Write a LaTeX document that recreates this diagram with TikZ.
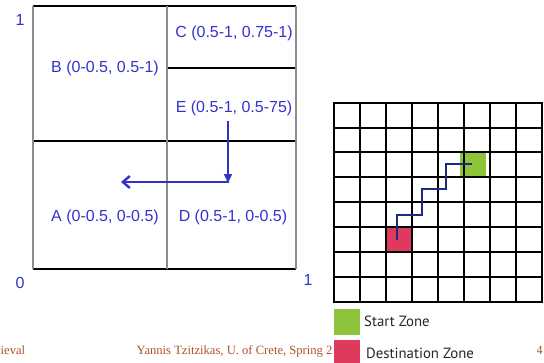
\documentclass[tikz,border=0pt]{standalone}
\usepackage{fontspec}
\setmainfont{Liberation Serif}
\setsansfont{Liberation Sans}
\newfontfamily\legendfont{PT Sans}
\usetikzlibrary{arrows.meta}
\definecolor{zoneblue}{HTML}{3333CC}
\definecolor{footbrown}{HTML}{B0502A}
\definecolor{startgreen}{HTML}{8DC43A}
\definecolor{destred}{HTML}{DD3A5E}
\definecolor{pathnavy}{HTML}{1E2A80}
\tikzset{
  vline/.style={draw=gray!90, line width=1.6pt},
  hline/.style={draw=black, line width=1.3pt},
  zonelabel/.style={font=\sffamily\fontsize{16}{19}\selectfont, text=zoneblue, inner sep=0pt},
  axislabel/.style={font=\sffamily\fontsize{16}{19}\selectfont, text=zoneblue, inner sep=0pt},
  moveline/.style={draw=zoneblue, line width=2pt},
  footer/.style={font=\rmfamily\fontsize{12.6}{14}\selectfont, text=footbrown, inner sep=0pt},
  gridline/.style={draw=black, line width=2pt},
  legendtext/.style={font=\legendfont\fontsize{14.8}{17}\selectfont, text=black!85, inner sep=0pt, anchor=base west},
  route/.style={draw=pathnavy, line width=2pt},
}
\begin{document}
\begin{tikzpicture}[x=1pt,y=-1pt]
\useasboundingbox (0,0) rectangle (544,362);

% footer line of the page
\node[footer, anchor=base west] (fleft) at (0.5,354.5) {ieval};
\node[footer, anchor=base west] (fmid) at (136.5,354.5) {Yannis Tzitzikas, U. of Crete, Spring 2};
\node[footer, anchor=base] (fnum) at (539.5,354.5) {4};

% partition of the unit square
\draw[hline] (33,6) -- (296,6);
\draw[hline] (33,269) -- (296,269);
\draw[hline] (33,141) -- (296,141);
\draw[hline] (167,68) -- (296,68);
\draw[vline] (33,6) -- (33,269);
\draw[vline] (167,6) -- (167,269);
\draw[vline] (296,6) -- (296,269);

% axis ticks
\node[axislabel] (ytop) at (20,20) {1};
\node[axislabel] (origin) at (20,283) {0};
\node[axislabel] (xright) at (308,280) {1};

% zone labels
\node[zonelabel] (zc) at (234,33) {C (0.5-1, 0.75-1)};
\node[zonelabel] (zb) at (105,68) {B (0-0.5, 0.5-1)};
\node[zonelabel] (ze) at (234,108) {E (0.5-1, 0.5-75)};
\node[zonelabel] (za) at (105,217) {A (0-0.5, 0-0.5)};
\node[zonelabel] (zd) at (233,217) {D (0.5-1, 0-0.5)};

% movement of the object from E into A
\coordinate (mstart) at (228,121);
\coordinate (mturn) at (228,182);
\coordinate (mend) at (121,182);
\draw[moveline, -{Triangle[length=9pt,width=8pt]}] (mstart) -- ([yshift=-1pt]mturn);
\draw[moveline, -{Straight Barb[length=7pt,width=12pt,line width=2.4pt]}] ([xshift=1pt]mturn) -- (mend);

% grid of zones
\fill[white] (333,95) rectangle (537,362);
\fill[startgreen] (460,152.5) rectangle (486,177.5);
\fill[destred] (385,227) rectangle (411,252);
\foreach \i in {0,...,8} {
  \draw[gridline] (334+26*\i,102.7) -- (334+26*\i,301.7);
  \draw[gridline] (333,102.7+24.875*\i) -- (543,102.7+24.875*\i);
}

% route between the two zones
\coordinate (r0) at (472,164);
\coordinate (r1) at (446,164);
\coordinate (r2) at (446,189.3);
\coordinate (r3) at (422,189.3);
\coordinate (r4) at (422,215);
\coordinate (r5) at (397.3,215);
\coordinate (r6) at (397.3,240);
\draw[route] (r0) -- (r1) -- (r2) -- (r3) -- (r4) -- (r5) -- (r6);

% legend
\fill[startgreen] (334,309) rectangle (360,335);
\fill[destred] (334,340) rectangle (360,363);
\node[legendtext] (lstart) at (364,326) {Start Zone};
\node[legendtext] (ldest) at (366,358.5) {Destination Zone};
\end{tikzpicture}
\end{document}
